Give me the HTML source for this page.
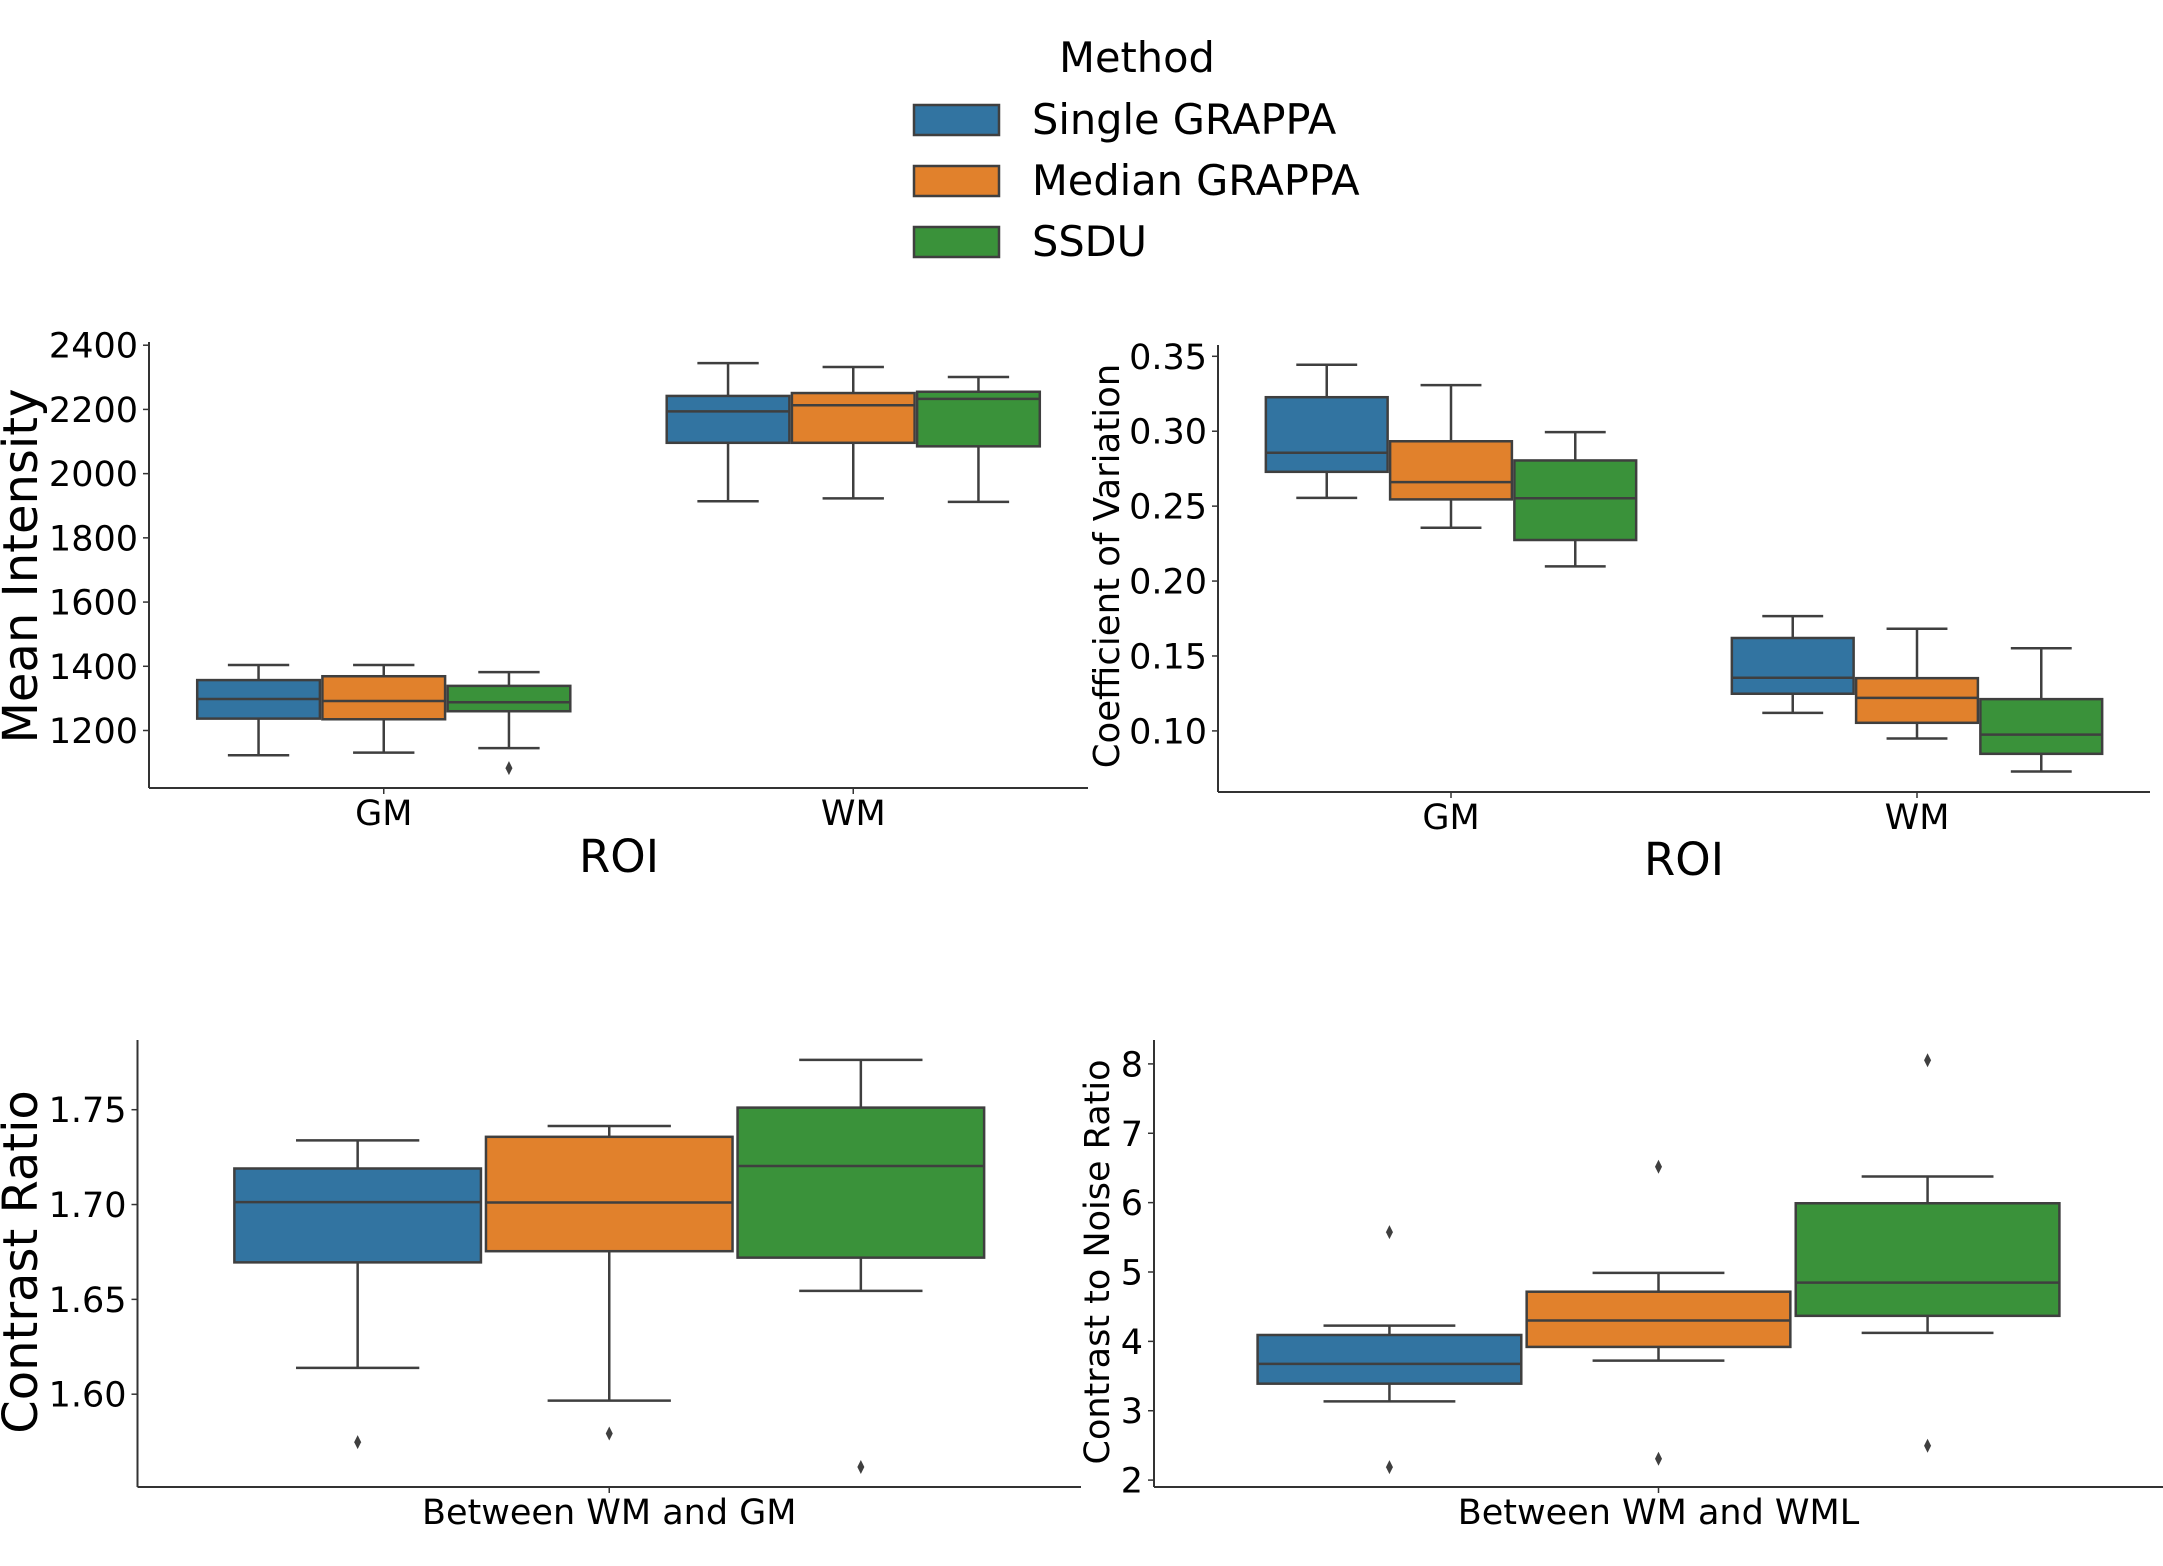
<!DOCTYPE html>
<html><head><meta charset="utf-8">
<style>
html,body{margin:0;padding:0;background:#fff;}
svg{display:block;font-family:"DejaVu Sans","Liberation Sans",sans-serif;}
</style></head>
<body>
<svg id="chart" width="2163" height="1566" viewBox="0 0 2163 1566" xmlns="http://www.w3.org/2000/svg">
<g>
<text x="1137" y="72" font-size="41.5" text-anchor="middle">Method</text>
<rect x="914" y="105" width="85" height="30" fill="#3274a1" stroke="#3f3f3f" stroke-width="2.5"/>
<text x="1032" y="134" font-size="41.5">Single GRAPPA</text>
<rect x="914" y="166" width="85" height="30" fill="#e1812c" stroke="#3f3f3f" stroke-width="2.5"/>
<text x="1032" y="195" font-size="41.5">Median GRAPPA</text>
<rect x="914" y="227" width="85" height="30" fill="#3a923a" stroke="#3f3f3f" stroke-width="2.5"/>
<text x="1032" y="256" font-size="41.5">SSDU</text>
</g>
</svg>
<script>
// ---- data ----
const methods = ["Single GRAPPA","Median GRAPPA","SSDU"];
const colors = ["#3274a1","#e1812c","#3a923a"];
// Panel 1: Mean Intensity  [low, q1, median, q3, high]
const p1Categories = ["GM","WM"];
const p1Ticks = [1200,1400,1600,1800,2000,2200,2400];
const p1Single = [[1123,1237,1298,1357,1404],[1914,2096,2194,2242,2344]];
const p1Median = [[1131,1235,1292,1369,1404],[1923,2096,2213,2251,2332]];
const p1Ssdu   = [[1145,1260,1288,1339,1382],[1912,2085,2233,2255,2301]];
const p1Outliers = [[[],[],[1083]],[[],[],[]]];
// Panel 2: Coefficient of Variation
const p2Categories = ["GM","WM"];
const p2Ticks = [0.10,0.15,0.20,0.25,0.30,0.35];
const p2Single = [[0.2555,0.2729,0.2856,0.3227,0.3444],[0.1120,0.1248,0.1355,0.1620,0.1766]];
const p2Median = [[0.2356,0.2545,0.2660,0.2933,0.3308],[0.0949,0.1054,0.1220,0.1352,0.1682]];
const p2Ssdu   = [[0.2098,0.2274,0.2553,0.2805,0.2994],[0.0729,0.0847,0.0975,0.1212,0.1552]];
const p2Outliers = [[[],[],[]],[[],[],[]]];
// Panel 3: Contrast Ratio
const p3Categories = ["Between WM and GM"];
const p3Ticks = [1.60,1.65,1.70,1.75];
const p3Single = [[1.6139,1.6695,1.7013,1.7190,1.7338]];
const p3Median = [[1.5966,1.6754,1.7011,1.7357,1.7414]];
const p3Ssdu   = [[1.6545,1.6720,1.7203,1.7511,1.7763]];
const p3Outliers = [[[1.5747],[1.5793],[1.5616]]];
// Panel 4: Contrast to Noise Ratio
const p4Categories = ["Between WM and WML"];
const p4Ticks = [2,3,4,5,6,7,8];
const p4Single = [[3.135,3.390,3.676,4.092,4.227]];
const p4Median = [[3.722,3.920,4.300,4.716,4.987]];
const p4Ssdu   = [[4.123,4.368,4.847,5.991,6.376]];
const p4Outliers = [[[5.575,2.187],[6.517,2.307],[8.052,2.495]]];

const NS="http://www.w3.org/2000/svg";
const svg=document.getElementById('chart');
function mk(tag,attrs,parent){const e=document.createElementNS(NS,tag);for(const k in attrs)e.setAttribute(k,attrs[k]);parent.appendChild(e);return e;}

function panel(cfg){
  const g=mk('g',{},svg);
  
  
  const yScale=v=>cfg.y0px+(v-cfg.v0)*(cfg.y1px-cfg.y0px)/(cfg.v1-cfg.v0);
  const n=cfg.cats.length, W=cfg.right-cfg.left, band=W/n;
  const xCenter=i=>cfg.left+(i+0.5)*band;
  const ya=mk('line',{x1:cfg.left,y1:cfg.top,x2:cfg.left,y2:cfg.bottom,stroke:'#333',"stroke-width":2},g);
  
  
  const xa=mk('line',{x1:cfg.left,y1:cfg.bottom,x2:cfg.right,y2:cfg.bottom,stroke:'#333',"stroke-width":2},g);
  
  
  cfg.ticks.forEach(t=>{
    const y=yScale(t);
    mk('line',{x1:cfg.left-6,y1:y,x2:cfg.left,y2:y,stroke:'#333',"stroke-width":1.5},g);
    const tx=mk('text',{x:cfg.left-11,y:y+12.5,"font-size":35,"text-anchor":"end"},g);
    tx.textContent=cfg.fmt(t);
    
    
  });
  cfg.cats.forEach((c,i)=>{
    const x=xCenter(i);
    mk('line',{x1:x,y1:cfg.bottom,x2:x,y2:cfg.bottom+6,stroke:'#333',"stroke-width":1.5},g);
    const tx=mk('text',{x:x,y:cfg.bottom+37,"font-size":35,"text-anchor":"middle"},g);
    tx.textContent=c;
    
    
  });
  const hueW=band*0.8/3, boxW=hueW*0.98;
  const series=[cfg.s0,cfg.s1,cfg.s2];
  cfg.cats.forEach((c,i)=>{
    series.forEach((s,h)=>{
      const d=s[i];
      const cx=xCenter(i)-band*0.4+hueW*(h+0.5);
      const bg=mk('g',{},g);
      
      
      const st={stroke:'#3f3f3f',"stroke-width":2.5};
      mk('line',Object.assign({x1:cx,y1:yScale(d[0]),x2:cx,y2:yScale(d[1])},st),bg);
      mk('line',Object.assign({x1:cx,y1:yScale(d[3]),x2:cx,y2:yScale(d[4])},st),bg);
      mk('line',Object.assign({x1:cx-boxW/4,y1:yScale(d[0]),x2:cx+boxW/4,y2:yScale(d[0])},st),bg);
      mk('line',Object.assign({x1:cx-boxW/4,y1:yScale(d[4]),x2:cx+boxW/4,y2:yScale(d[4])},st),bg);
      mk('rect',Object.assign({x:cx-boxW/2,y:yScale(d[3]),width:boxW,height:yScale(d[1])-yScale(d[3]),fill:colors[h]},st),bg);
      mk('line',Object.assign({x1:cx-boxW/2,y1:yScale(d[2]),x2:cx+boxW/2,y2:yScale(d[2])},st),bg);
      cfg.out[i][h].forEach(v=>{
        const y=yScale(v);
        const p=mk('path',{d:`M${cx},${y-7} L${cx+3.5},${y} L${cx},${y+7} L${cx-3.5},${y} Z`,fill:'#3f3f3f'},bg);
        
        
      });
    });
  });
  const yl=mk('text',{transform:`translate(${cfg.ylx},${cfg.yly}) rotate(-90)`,"font-size":cfg.ylSize,"text-anchor":"middle"},g);
  yl.textContent=cfg.ylabel;
  
  
  if(cfg.xlabel){
    const xl=mk('text',{x:cfg.xlx,y:cfg.xly,"font-size":45,"text-anchor":"middle"},g);
    xl.textContent=cfg.xlabel;
    
    
  }
}
panel({name:'mean-intensity-panel',left:149,right:1088,top:342,bottom:788,v0:2400,y0px:345.2,v1:1200,y1px:730.5,
  cats:p1Categories,ticks:p1Ticks,fmt:t=>String(t),s0:p1Single,s1:p1Median,s2:p1Ssdu,out:p1Outliers,
  ylabel:'Mean Intensity',ylx:37,yly:566,ylSize:48,xlabel:'ROI',xlx:619,xly:872});
panel({name:'coefficient-of-variation-panel',left:1218,right:2150,top:345,bottom:792,v0:0.35,y0px:356.3,v1:0.10,y1px:730.9,
  cats:p2Categories,ticks:p2Ticks,fmt:t=>t.toFixed(2),s0:p2Single,s1:p2Median,s2:p2Ssdu,out:p2Outliers,
  ylabel:'Coefficient of Variation',ylx:1119,yly:566,ylSize:35.5,xlabel:'ROI',xlx:1684,xly:875});
panel({name:'contrast-ratio-panel',left:137.5,right:1081,top:1040,bottom:1487,v0:1.75,y0px:1109.7,v1:1.60,y1px:1394.2,
  cats:p3Categories,ticks:p3Ticks,fmt:t=>t.toFixed(2),s0:p3Single,s1:p3Median,s2:p3Ssdu,out:p3Outliers,
  ylabel:'Contrast Ratio',ylx:37,yly:1262,ylSize:48});
panel({name:'contrast-to-noise-panel',left:1154,right:2163,top:1040,bottom:1487,v0:8,y0px:1063.9,v1:2,y1px:1480.1,
  cats:p4Categories,ticks:p4Ticks,fmt:t=>String(t),s0:p4Single,s1:p4Median,s2:p4Ssdu,out:p4Outliers,
  ylabel:'Contrast to Noise Ratio',ylx:1109,yly:1262,ylSize:35});
</script>
</body></html>
